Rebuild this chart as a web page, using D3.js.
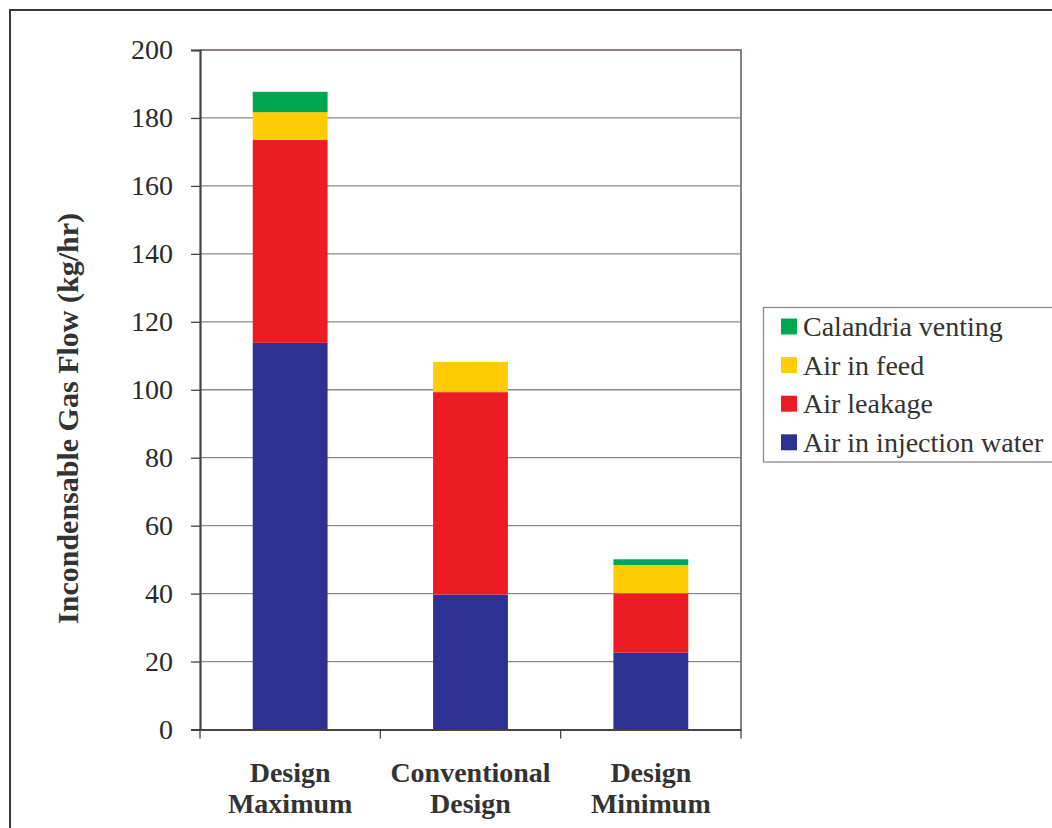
<!DOCTYPE html>
<html>
<head>
<meta charset="utf-8">
<script src="https://cdn.jsdelivr.net/npm/d3@7"></script>
<style>
  html, body { margin: 0; padding: 0; background: #fff; }
  svg { display: block; }
</style>
</head>
<body>
<svg id="chart" width="1052" height="828"></svg>
<script>
// Incondensable gas flow by design case, stacked by source (kg/hr)
const categories = [["Design", "Maximum"], ["Conventional", "Design"], ["Design", "Minimum"]];
const seriesNames = ["Air in injection water", "Air leakage", "Air in feed", "Calandria venting"];
const injectionWater = [113.8, 39.7, 22.6];
const leakage = [59.7, 59.6, 17.5];
const feed = [8.2, 8.9, 8.3];
const venting = [6.0, 0, 1.7];
const colors = ["#2E3192", "#ED1C24", "#FFCC05", "#00A650"];
const yTicks = [0, 20, 40, 60, 80, 100, 120, 140, 160, 180, 200];

const svg = d3.select("#chart");
const font = "Liberation Serif";

// outer frame
svg.append("path")
  .attr("d", "M10,840 L10,10 L1060,10")
  .attr("fill", "none").attr("stroke", "#3a3a3a").attr("stroke-width", 2);

const plot = { left: 200, right: 741, top: 50, bottom: 729.5 };

const rows = categories.map((c, i) => ({
  key: i,
  values: [injectionWater[i], leakage[i], feed[i], venting[i]]
}));

const x = d3.scaleBand().domain(d3.range(categories.length))
  .range([plot.left, plot.right]).padding(0);
const y = d3.scaleLinear().domain([0, 200]).range([plot.bottom, plot.top]);

// gridlines
svg.append("g").selectAll("line")
  .data(yTicks.filter(t => t > 0))
  .join("line")
  .attr("x1", plot.left).attr("x2", plot.right)
  .attr("y1", d => y(d)).attr("y2", d => y(d))
  .attr("stroke", "#8a8a8a").attr("stroke-width", 1.3);

// plot border (top/right)
svg.append("path")
  .attr("d", `M${plot.left},${plot.top} L${plot.right},${plot.top} L${plot.right},${plot.bottom}`)
  .attr("fill", "none").attr("stroke", "#8c8180").attr("stroke-width", 2);

// stacked bars
const stack = d3.stack().keys(d3.range(seriesNames.length)).value((d, k) => d.values[k]);
const stacked = stack(rows);
const barW = x.bandwidth() * 0.415;

svg.append("g").selectAll("g")
  .data(stacked)
  .join("g")
  .attr("fill", (d, i) => colors[i])
  .selectAll("rect")
  .data(d => d.filter(s => s[1] - s[0] > 0))
  .join("rect")
  .attr("x", d => x(d.data.key) + x.bandwidth() / 2 - barW / 2)
  .attr("width", barW)
  .attr("y", d => y(d[1]))
  .attr("height", d => y(d[0]) - y(d[1]));

// y axis
const yAxis = d3.axisLeft(y).tickValues(yTicks).tickSize(9).tickPadding(18);
const gy = svg.append("g").attr("transform", `translate(${plot.left},0)`).call(yAxis);
gy.select(".domain").attr("stroke", "#4a4242").attr("stroke-width", 2.2);
gy.selectAll(".tick line").attr("stroke", "#4a4242").attr("stroke-width", 1.3);
gy.selectAll(".tick text")
  .attr("font-family", font).attr("font-size", 28).attr("fill", "#2a2a2a");

// x axis
const xAxis = d3.axisBottom(x).tickSize(0).tickFormat(() => "");
const gx = svg.append("g").attr("transform", `translate(0,${plot.bottom})`).call(xAxis);
gx.select(".domain").attr("stroke", "#4a4242").attr("stroke-width", 2.2);
const xBounds = [plot.left, ...d3.range(categories.length).map(i => x(i) + x.bandwidth())];
gx.selectAll(".sep").data(xBounds).join("line")
  .attr("class", "sep")
  .attr("x1", d => d).attr("x2", d => d)
  .attr("y1", 0).attr("y2", 9)
  .attr("stroke", "#4a4242").attr("stroke-width", 1.3);

// category labels
const catG = svg.append("g");
categories.forEach((lines, i) => {
  const cx = x(i) + x.bandwidth() / 2;
  const t = catG.append("text")
    .attr("x", cx)
    .attr("y", 781.5)
    .attr("text-anchor", "middle")
    .attr("font-family", font).attr("font-size", 28).attr("font-weight", "bold")
    .attr("fill", "#333");
  lines.forEach((l, j) => t.append("tspan")
    .attr("x", cx).attr("dy", j === 0 ? 0 : 31).text(l));
});

// y axis title
svg.append("text")
  .attr("transform", `translate(78,418.5) rotate(-90)`)
  .attr("text-anchor", "middle")
  .attr("font-family", font).attr("font-size", 30).attr("font-weight", "bold")
  .attr("fill", "#333")
  .text("Incondensable Gas Flow (kg/hr)");

// legend
const lg = svg.append("g");
lg.append("rect")
  .attr("x", 763.5).attr("y", 307.5).attr("width", 320).attr("height", 154.5)
  .attr("fill", "#fff").attr("stroke", "#8a8a8a").attr("stroke-width", 1.3);
const legendOrder = [3, 2, 1, 0];
legendOrder.forEach((si, j) => {
  const cy = 326.5 + j * 38.6;
  lg.append("rect")
    .attr("x", 781).attr("y", cy - 8).attr("width", 16).attr("height", 16)
    .attr("fill", colors[si]);
  lg.append("text")
    .attr("x", 803).attr("y", cy + 9.5)
    .attr("font-family", font).attr("font-size", 28)
    .attr("fill", "#333")
    .text(seriesNames[si]);
});
</script>
</body>
</html>
